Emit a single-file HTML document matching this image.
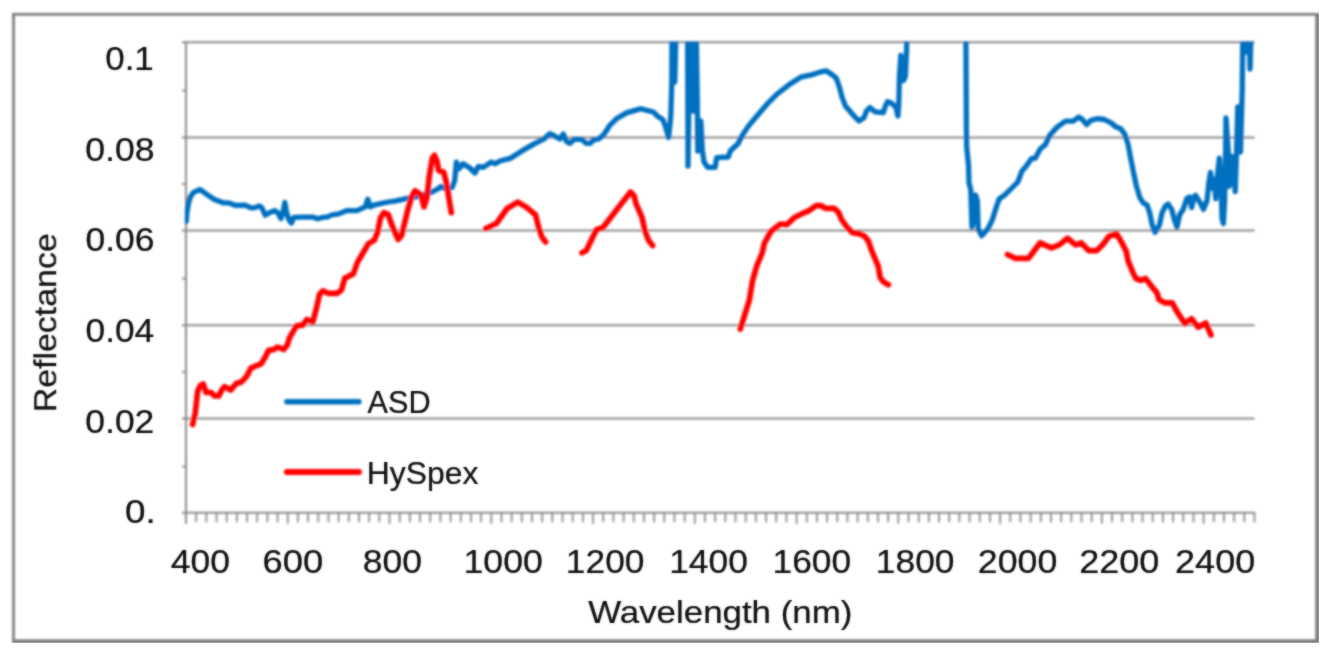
<!DOCTYPE html>
<html lang="en"><head><meta charset="utf-8"><title>Reflectance vs Wavelength</title>
<style>
html,body{margin:0;padding:0;background:#fff;}
body{width:1332px;height:652px;overflow:hidden;position:relative;}
svg{display:block;position:absolute;left:0;top:0;}
text{font-family:"Liberation Sans",sans-serif;fill:#0a0a0a;stroke:#0a0a0a;stroke-width:0.2px;}
</style></head><body>
<svg width="1332" height="652" viewBox="0 0 1332 652">
<defs><filter id="bl" filterUnits="userSpaceOnUse" x="0" y="0" width="1332" height="652"><feGaussianBlur stdDeviation="0.85"/></filter><filter id="bt" filterUnits="userSpaceOnUse" x="0" y="0" width="1332" height="652"><feGaussianBlur stdDeviation="0.8" result="b"/><feComposite in="b" in2="SourceGraphic" operator="arithmetic" k1="0" k2="0.5" k3="0.5" k4="0"/></filter><clipPath id="outer"><rect x="0" y="0" width="1318.8" height="642.8"/></clipPath><clipPath id="plot"><rect x="184.8" y="41.5" width="1072.7" height="472.00000000000006"/></clipPath></defs>
<rect x="0" y="0" width="1332" height="652" fill="#ffffff"/>
<g clip-path="url(#outer)"><g filter="url(#bl)">
<!-- outer frame -->
<g fill="#727272">
<rect x="12.3" y="13.1" width="2.5" height="636"/>
<rect x="12.3" y="13.1" width="1312" height="2.5"/>
</g>
<g fill="#7e7e7e">
<rect x="1315.3" y="13.1" width="9" height="636"/>
<rect x="12.3" y="639.3" width="1312" height="9"/>
</g>

<g stroke="#8a8a8a" stroke-width="2.0" fill="none">
<line x1="182.0" y1="42.3" x2="1254.5" y2="42.3"/>
<line x1="182.0" y1="137.6" x2="1254.5" y2="137.6"/>
<line x1="182.0" y1="230.4" x2="1254.5" y2="230.4"/>
<line x1="182.0" y1="325.3" x2="1254.5" y2="325.3"/>
<line x1="182.0" y1="418.4" x2="1254.5" y2="418.4"/>
<line x1="186.0" y1="42.3" x2="186.0" y2="523.7"/>
<line x1="182.0" y1="512.7" x2="1255.3" y2="512.7"/>
<line x1="182.0" y1="90.5" x2="186.0" y2="90.5" stroke-width="1.8"/>
<line x1="182.0" y1="184" x2="186.0" y2="184" stroke-width="1.8"/>
<line x1="182.0" y1="278.5" x2="186.0" y2="278.5" stroke-width="1.8"/>
<line x1="182.0" y1="371.8" x2="186.0" y2="371.8" stroke-width="1.8"/>
<line x1="182.0" y1="466.5" x2="186.0" y2="466.5" stroke-width="1.8"/>
<line x1="196.18" y1="512.7" x2="196.18" y2="522.2" stroke-width="1.8"/>
<line x1="206.35" y1="512.7" x2="206.35" y2="522.2" stroke-width="1.8"/>
<line x1="216.53" y1="512.7" x2="216.53" y2="522.2" stroke-width="1.8"/>
<line x1="226.70" y1="512.7" x2="226.70" y2="522.2" stroke-width="1.8"/>
<line x1="236.88" y1="512.7" x2="236.88" y2="522.2" stroke-width="1.8"/>
<line x1="247.06" y1="512.7" x2="247.06" y2="522.2" stroke-width="1.8"/>
<line x1="257.23" y1="512.7" x2="257.23" y2="522.2" stroke-width="1.8"/>
<line x1="267.41" y1="512.7" x2="267.41" y2="522.2" stroke-width="1.8"/>
<line x1="277.59" y1="512.7" x2="277.59" y2="522.2" stroke-width="1.8"/>
<line x1="287.76" y1="512.7" x2="287.76" y2="523.7" stroke-width="1.8"/>
<line x1="297.94" y1="512.7" x2="297.94" y2="522.2" stroke-width="1.8"/>
<line x1="308.11" y1="512.7" x2="308.11" y2="522.2" stroke-width="1.8"/>
<line x1="318.29" y1="512.7" x2="318.29" y2="522.2" stroke-width="1.8"/>
<line x1="328.47" y1="512.7" x2="328.47" y2="522.2" stroke-width="1.8"/>
<line x1="338.64" y1="512.7" x2="338.64" y2="522.2" stroke-width="1.8"/>
<line x1="348.82" y1="512.7" x2="348.82" y2="522.2" stroke-width="1.8"/>
<line x1="359.00" y1="512.7" x2="359.00" y2="522.2" stroke-width="1.8"/>
<line x1="369.17" y1="512.7" x2="369.17" y2="522.2" stroke-width="1.8"/>
<line x1="379.35" y1="512.7" x2="379.35" y2="522.2" stroke-width="1.8"/>
<line x1="389.52" y1="512.7" x2="389.52" y2="523.7" stroke-width="1.8"/>
<line x1="399.70" y1="512.7" x2="399.70" y2="522.2" stroke-width="1.8"/>
<line x1="409.88" y1="512.7" x2="409.88" y2="522.2" stroke-width="1.8"/>
<line x1="420.05" y1="512.7" x2="420.05" y2="522.2" stroke-width="1.8"/>
<line x1="430.23" y1="512.7" x2="430.23" y2="522.2" stroke-width="1.8"/>
<line x1="440.40" y1="512.7" x2="440.40" y2="522.2" stroke-width="1.8"/>
<line x1="450.58" y1="512.7" x2="450.58" y2="522.2" stroke-width="1.8"/>
<line x1="460.76" y1="512.7" x2="460.76" y2="522.2" stroke-width="1.8"/>
<line x1="470.93" y1="512.7" x2="470.93" y2="522.2" stroke-width="1.8"/>
<line x1="481.11" y1="512.7" x2="481.11" y2="522.2" stroke-width="1.8"/>
<line x1="491.29" y1="512.7" x2="491.29" y2="523.7" stroke-width="1.8"/>
<line x1="501.46" y1="512.7" x2="501.46" y2="522.2" stroke-width="1.8"/>
<line x1="511.64" y1="512.7" x2="511.64" y2="522.2" stroke-width="1.8"/>
<line x1="521.81" y1="512.7" x2="521.81" y2="522.2" stroke-width="1.8"/>
<line x1="531.99" y1="512.7" x2="531.99" y2="522.2" stroke-width="1.8"/>
<line x1="542.17" y1="512.7" x2="542.17" y2="522.2" stroke-width="1.8"/>
<line x1="552.34" y1="512.7" x2="552.34" y2="522.2" stroke-width="1.8"/>
<line x1="562.52" y1="512.7" x2="562.52" y2="522.2" stroke-width="1.8"/>
<line x1="572.70" y1="512.7" x2="572.70" y2="522.2" stroke-width="1.8"/>
<line x1="582.87" y1="512.7" x2="582.87" y2="522.2" stroke-width="1.8"/>
<line x1="593.05" y1="512.7" x2="593.05" y2="523.7" stroke-width="1.8"/>
<line x1="603.22" y1="512.7" x2="603.22" y2="522.2" stroke-width="1.8"/>
<line x1="613.40" y1="512.7" x2="613.40" y2="522.2" stroke-width="1.8"/>
<line x1="623.58" y1="512.7" x2="623.58" y2="522.2" stroke-width="1.8"/>
<line x1="633.75" y1="512.7" x2="633.75" y2="522.2" stroke-width="1.8"/>
<line x1="643.93" y1="512.7" x2="643.93" y2="522.2" stroke-width="1.8"/>
<line x1="654.10" y1="512.7" x2="654.10" y2="522.2" stroke-width="1.8"/>
<line x1="664.28" y1="512.7" x2="664.28" y2="522.2" stroke-width="1.8"/>
<line x1="674.46" y1="512.7" x2="674.46" y2="522.2" stroke-width="1.8"/>
<line x1="684.63" y1="512.7" x2="684.63" y2="522.2" stroke-width="1.8"/>
<line x1="694.81" y1="512.7" x2="694.81" y2="523.7" stroke-width="1.8"/>
<line x1="704.99" y1="512.7" x2="704.99" y2="522.2" stroke-width="1.8"/>
<line x1="715.16" y1="512.7" x2="715.16" y2="522.2" stroke-width="1.8"/>
<line x1="725.34" y1="512.7" x2="725.34" y2="522.2" stroke-width="1.8"/>
<line x1="735.51" y1="512.7" x2="735.51" y2="522.2" stroke-width="1.8"/>
<line x1="745.69" y1="512.7" x2="745.69" y2="522.2" stroke-width="1.8"/>
<line x1="755.87" y1="512.7" x2="755.87" y2="522.2" stroke-width="1.8"/>
<line x1="766.04" y1="512.7" x2="766.04" y2="522.2" stroke-width="1.8"/>
<line x1="776.22" y1="512.7" x2="776.22" y2="522.2" stroke-width="1.8"/>
<line x1="786.40" y1="512.7" x2="786.40" y2="522.2" stroke-width="1.8"/>
<line x1="796.57" y1="512.7" x2="796.57" y2="523.7" stroke-width="1.8"/>
<line x1="806.75" y1="512.7" x2="806.75" y2="522.2" stroke-width="1.8"/>
<line x1="816.92" y1="512.7" x2="816.92" y2="522.2" stroke-width="1.8"/>
<line x1="827.10" y1="512.7" x2="827.10" y2="522.2" stroke-width="1.8"/>
<line x1="837.28" y1="512.7" x2="837.28" y2="522.2" stroke-width="1.8"/>
<line x1="847.45" y1="512.7" x2="847.45" y2="522.2" stroke-width="1.8"/>
<line x1="857.63" y1="512.7" x2="857.63" y2="522.2" stroke-width="1.8"/>
<line x1="867.80" y1="512.7" x2="867.80" y2="522.2" stroke-width="1.8"/>
<line x1="877.98" y1="512.7" x2="877.98" y2="522.2" stroke-width="1.8"/>
<line x1="888.16" y1="512.7" x2="888.16" y2="522.2" stroke-width="1.8"/>
<line x1="898.33" y1="512.7" x2="898.33" y2="523.7" stroke-width="1.8"/>
<line x1="908.51" y1="512.7" x2="908.51" y2="522.2" stroke-width="1.8"/>
<line x1="918.69" y1="512.7" x2="918.69" y2="522.2" stroke-width="1.8"/>
<line x1="928.86" y1="512.7" x2="928.86" y2="522.2" stroke-width="1.8"/>
<line x1="939.04" y1="512.7" x2="939.04" y2="522.2" stroke-width="1.8"/>
<line x1="949.21" y1="512.7" x2="949.21" y2="522.2" stroke-width="1.8"/>
<line x1="959.39" y1="512.7" x2="959.39" y2="522.2" stroke-width="1.8"/>
<line x1="969.57" y1="512.7" x2="969.57" y2="522.2" stroke-width="1.8"/>
<line x1="979.74" y1="512.7" x2="979.74" y2="522.2" stroke-width="1.8"/>
<line x1="989.92" y1="512.7" x2="989.92" y2="522.2" stroke-width="1.8"/>
<line x1="1000.10" y1="512.7" x2="1000.10" y2="523.7" stroke-width="1.8"/>
<line x1="1010.27" y1="512.7" x2="1010.27" y2="522.2" stroke-width="1.8"/>
<line x1="1020.45" y1="512.7" x2="1020.45" y2="522.2" stroke-width="1.8"/>
<line x1="1030.62" y1="512.7" x2="1030.62" y2="522.2" stroke-width="1.8"/>
<line x1="1040.80" y1="512.7" x2="1040.80" y2="522.2" stroke-width="1.8"/>
<line x1="1050.98" y1="512.7" x2="1050.98" y2="522.2" stroke-width="1.8"/>
<line x1="1061.15" y1="512.7" x2="1061.15" y2="522.2" stroke-width="1.8"/>
<line x1="1071.33" y1="512.7" x2="1071.33" y2="522.2" stroke-width="1.8"/>
<line x1="1081.50" y1="512.7" x2="1081.50" y2="522.2" stroke-width="1.8"/>
<line x1="1091.68" y1="512.7" x2="1091.68" y2="522.2" stroke-width="1.8"/>
<line x1="1101.86" y1="512.7" x2="1101.86" y2="523.7" stroke-width="1.8"/>
<line x1="1112.03" y1="512.7" x2="1112.03" y2="522.2" stroke-width="1.8"/>
<line x1="1122.21" y1="512.7" x2="1122.21" y2="522.2" stroke-width="1.8"/>
<line x1="1132.39" y1="512.7" x2="1132.39" y2="522.2" stroke-width="1.8"/>
<line x1="1142.56" y1="512.7" x2="1142.56" y2="522.2" stroke-width="1.8"/>
<line x1="1152.74" y1="512.7" x2="1152.74" y2="522.2" stroke-width="1.8"/>
<line x1="1162.91" y1="512.7" x2="1162.91" y2="522.2" stroke-width="1.8"/>
<line x1="1173.09" y1="512.7" x2="1173.09" y2="522.2" stroke-width="1.8"/>
<line x1="1183.27" y1="512.7" x2="1183.27" y2="522.2" stroke-width="1.8"/>
<line x1="1193.44" y1="512.7" x2="1193.44" y2="522.2" stroke-width="1.8"/>
<line x1="1203.62" y1="512.7" x2="1203.62" y2="523.7" stroke-width="1.8"/>
<line x1="1213.80" y1="512.7" x2="1213.80" y2="522.2" stroke-width="1.8"/>
<line x1="1223.97" y1="512.7" x2="1223.97" y2="522.2" stroke-width="1.8"/>
<line x1="1234.15" y1="512.7" x2="1234.15" y2="522.2" stroke-width="1.8"/>
<line x1="1244.32" y1="512.7" x2="1244.32" y2="522.2" stroke-width="1.8"/>
<line x1="1254.50" y1="512.7" x2="1254.50" y2="522.2" stroke-width="1.8"/>
</g>
<g clip-path="url(#plot)" fill="none" stroke-linejoin="round" stroke-linecap="round">
<polyline points="186.2,221.5 187.0,212.0 188.4,203.5 190.4,196.8 193.6,192.4 197.0,190.8 200.2,189.6 205.3,193.3 213.7,199.2 223.9,202.9 228.9,202.9 235.7,205.4 244.9,205.1 250.9,207.9 255.1,207.6 259.3,205.9 261.8,207.6 265.2,215.2 269.4,212.7 274.5,210.6 277.8,212.7 280.9,218.6 282.9,212.7 284.9,202.5 286.6,212.7 288.8,219.4 291.3,223.1 293.9,217.3 301.5,217.1 312.5,217.1 317.8,218.8 323.4,217.2 327.6,217.0 331.4,215.0 338.6,213.9 346.7,210.6 356.9,210.6 365.3,206.8 367.8,199.2 370.4,206.8 373.7,205.1 385.5,202.5 395.7,200.9 407.5,198.3 417.6,196.6 431.1,192.4 437.8,189.0 441.2,186.5 446.3,189.0 452.2,187.4 454.7,180.6 456.4,162.1 458.9,168.8 463.1,163.7 469.9,168.0 475.0,173.0 478.3,166.3 483.4,167.4 491.0,162.1 495.2,163.7 500.0,161.0 510.1,158.4 521.9,150.9 533.7,144.1 543.9,139.0 549.8,133.6 554.0,135.7 559.9,139.0 563.3,134.0 566.6,141.6 570.0,143.3 574.2,139.4 581.8,139.4 586.0,143.3 590.3,143.3 593.6,139.9 598.7,139.0 603.7,134.8 609.7,125.5 616.4,118.8 626.5,112.9 635.0,110.4 640.9,108.7 646.8,110.4 653.5,112.0 657.7,116.3 662.8,119.6 665.3,126.1 668.6,137.5 670.8,116.0 671.8,82.0 672.0,20.0 674.8,82.0 676.2,20.0" stroke="#0070c0" stroke-width="5.3"/>
<polyline points="687.6,20.0 688.0,166.0 690.0,20.0 692.0,20.0 693.5,111.0 696.0,20.0 697.3,100.0 697.8,151.0 700.8,121.0 702.3,150.0 704.0,162.0 707.6,167.3 715.2,167.3 716.6,157.7 728.3,157.0 730.4,150.7 738.0,143.8 742.1,135.6 748.4,126.1 756.9,116.0 767.0,104.2 777.1,94.0 788.9,84.8 800.7,77.2 812.5,74.6 821.0,71.8 826.0,70.8 831.9,74.6 836.2,78.0 839.5,87.3 842.1,97.4 845.4,105.9 849.7,110.9 855.6,117.7 858.9,121.0 864.0,117.7 866.5,110.9 869.9,107.5 875.0,111.8 883.4,112.6 885.1,106.7 887.6,101.6 891.8,103.3 896.0,107.5 897.9,116.0 898.8,104.0 899.4,77.2 900.8,55.5 903.5,80.6 905.4,76.4 906.6,48.8 906.8,20.0" stroke="#0070c0" stroke-width="5.3"/>
<polyline points="965.8,20.0 966.4,130.0 966.7,147.6 968.5,165.2 969.0,182.9 970.8,189.9 971.1,200.5 972.0,226.9 973.8,218.1 975.6,195.2 977.3,200.5 978.2,228.7 981.7,235.7 987.9,228.7 992.3,219.9 996.7,205.8 999.3,198.7 1004.6,195.2 1010.8,189.0 1017.8,182.0 1022.2,170.5 1025.1,167.6 1031.8,158.3 1035.2,158.3 1040.2,149.0 1045.3,144.8 1049.5,135.5 1057.1,127.1 1065.5,121.2 1073.1,121.2 1078.7,117.0 1082.4,119.5 1086.6,124.6 1090.9,120.4 1096.8,118.7 1104.3,119.5 1111.1,122.9 1116.2,127.1 1120.4,128.5 1124.6,133.9 1128.0,144.0 1130.5,157.5 1133.4,172.0 1136.5,186.4 1140.0,197.9 1143.5,203.2 1147.0,204.9 1149.7,212.9 1152.3,225.2 1155.0,232.3 1159.4,225.2 1162.0,212.9 1165.6,205.8 1168.2,204.1 1171.7,209.4 1174.4,219.9 1177.0,227.0 1179.7,214.6 1183.2,209.4 1186.7,198.8 1189.4,197.0 1191.7,207.6 1193.8,197.0 1195.5,195.2 1199.9,202.3 1203.5,209.4 1207.0,200.5 1208.8,182.9 1210.5,172.3 1212.3,188.2 1214.0,179.4 1215.8,198.8 1217.6,174.1 1219.3,158.2 1221.1,182.9 1222.0,218.2 1223.4,223.5 1224.6,200.5 1225.5,156.5 1226.0,118.0 1228.2,150.0 1229.0,186.4 1230.8,182.9 1231.7,156.5 1233.4,158.2 1235.2,191.7 1236.6,150.0 1237.8,107.0 1239.3,140.0 1240.5,152.0 1242.2,90.0 1243.0,20.0 1245.5,20.0 1246.5,52.0 1247.5,20.0 1249.0,20.0 1250.0,69.0 1251.5,20.0" stroke="#0070c0" stroke-width="5.3"/>
<polyline points="192.6,424.5 195.2,413.5 197.7,390.9 200.2,385.8 203.3,384.1 206.1,392.5 211.2,392.5 214.6,395.9 218.8,395.9 222.2,389.2 224.7,386.6 230.6,390.0 236.5,383.3 240.7,382.4 246.6,376.5 250.9,368.1 256.8,365.5 261.0,363.9 265.2,357.1 268.6,350.4 273.6,349.5 277.8,347.0 283.7,349.5 287.1,345.3 289.6,337.7 296.4,325.9 302.7,325.2 306.9,319.5 312.8,322.0 317.0,306.0 319.5,294.2 322.9,290.8 328.0,293.3 337.2,293.3 341.5,289.9 344.8,278.1 348.2,276.5 353.3,273.9 357.5,262.1 362.5,253.7 368.4,243.6 374.3,240.2 377.7,231.7 380.5,217.7 383.9,212.7 388.1,214.3 392.3,226.2 398.2,239.5 401.6,235.4 407.5,211.0 411.7,196.6 415.1,190.7 421.0,194.9 424.0,206.8 426.9,197.5 429.4,175.5 432.4,157.8 434.5,155.3 437.0,161.2 438.7,170.5 443.7,172.2 446.3,182.3 448.8,197.5 451.3,212.7" stroke="#ff0000" stroke-width="5.7"/>
<polyline points="485.7,228.5 496.4,223.5 507.1,208.5 517.8,202.1 526.3,207.1 535.6,214.9 538.5,227.1 542.0,237.1 545.6,242.0" stroke="#ff0000" stroke-width="5.7"/>
<polyline points="582.0,252.7 586.3,250.6 596.2,229.9 603.4,227.1 617.6,208.5 630.5,192.1 634.0,195.7 636.2,204.2 641.9,217.1 644.7,229.9 648.3,239.9 652.6,245.6" stroke="#ff0000" stroke-width="5.7"/>
<polyline points="740.3,329.2 749.3,300.2 752.5,280.9 756.8,265.8 762.2,253.0 764.3,243.3 770.8,231.5 780.4,224.0 786.9,224.6 794.4,217.5 803.0,213.2 808.3,211.1 815.9,205.7 821.2,205.7 825.5,208.3 834.1,208.3 838.4,212.2 841.6,219.7 847.0,227.2 852.3,232.6 858.8,233.6 864.1,235.8 868.4,241.1 871.7,250.8 878.1,265.8 880.2,277.6 883.5,281.9 888.4,284.7" stroke="#ff0000" stroke-width="5.7"/>
<polyline points="1007.5,254.5 1015.1,258.3 1028.5,258.3 1040.0,243.0 1051.5,247.8 1059.2,244.9 1067.5,238.2 1075.5,244.9 1081.3,243.0 1088.9,250.7 1096.6,250.7 1103.3,244.0 1109.0,236.3 1116.7,233.8 1122.5,244.0 1126.3,251.6 1128.2,261.2 1133.0,272.7 1135.9,278.5 1140.7,280.4 1145.5,278.5 1152.2,287.1 1157.0,292.8 1158.9,299.5 1164.6,302.8 1172.3,302.8 1176.1,310.1 1184.8,323.5 1191.5,318.7 1198.2,327.3 1205.8,323.1 1211.0,335.0" stroke="#ff0000" stroke-width="5.7"/>
</g>
<line x1="286.8" y1="401.8" x2="359" y2="401.8" stroke="#0070c0" stroke-width="5.4" stroke-linecap="round"/>
<line x1="286.8" y1="472.1" x2="359" y2="472.1" stroke="#ff0000" stroke-width="6" stroke-linecap="round"/>
</g></g>
<g filter="url(#bt)">
<text x="367.54" y="413" font-size="32.2" textLength="63.03" lengthAdjust="spacingAndGlyphs">ASD</text>
<text x="366.79" y="484" font-size="32.2" textLength="111.56" lengthAdjust="spacingAndGlyphs">HySpex</text>
<text x="105.24" y="70.2" font-size="32.8" textLength="48.57" lengthAdjust="spacingAndGlyphs">0.1</text>
<text x="85.31" y="160.8" font-size="32.8" textLength="69.34" lengthAdjust="spacingAndGlyphs">0.08</text>
<text x="85.41" y="250.9" font-size="32.8" textLength="69.15" lengthAdjust="spacingAndGlyphs">0.06</text>
<text x="85.52" y="341.8" font-size="32.8" textLength="68.71" lengthAdjust="spacingAndGlyphs">0.04</text>
<text x="85.31" y="432.8" font-size="32.8" textLength="69.07" lengthAdjust="spacingAndGlyphs">0.02</text>
<text x="125.06" y="523.2" font-size="32.8" textLength="30.70" lengthAdjust="spacingAndGlyphs">0.</text>
<text x="170.78" y="573.4" font-size="32.8" textLength="59.30" lengthAdjust="spacingAndGlyphs">400</text>
<text x="262.55" y="573.4" font-size="32.8" textLength="60.67" lengthAdjust="spacingAndGlyphs">600</text>
<text x="362.65" y="573.4" font-size="32.8" textLength="59.33" lengthAdjust="spacingAndGlyphs">800</text>
<text x="463.48" y="573.4" font-size="32.8" textLength="79.41" lengthAdjust="spacingAndGlyphs">1000</text>
<text x="565.81" y="573.4" font-size="32.8" textLength="78.68" lengthAdjust="spacingAndGlyphs">1200</text>
<text x="669.21" y="573.4" font-size="32.8" textLength="78.68" lengthAdjust="spacingAndGlyphs">1400</text>
<text x="772.51" y="573.4" font-size="32.8" textLength="78.68" lengthAdjust="spacingAndGlyphs">1600</text>
<text x="875.81" y="573.4" font-size="32.8" textLength="78.68" lengthAdjust="spacingAndGlyphs">1800</text>
<text x="977.80" y="573.4" font-size="32.8" textLength="79.49" lengthAdjust="spacingAndGlyphs">2000</text>
<text x="1079.19" y="573.4" font-size="32.8" textLength="80.22" lengthAdjust="spacingAndGlyphs">2200</text>
<text x="1175.09" y="573.4" font-size="32.8" textLength="80.12" lengthAdjust="spacingAndGlyphs">2400</text>
<text x="588.15" y="623" font-size="32.2" textLength="264.22" lengthAdjust="spacingAndGlyphs">Wavelength (nm)</text>
<text transform="translate(56.2,410) rotate(-90)" x="-2.38" y="0" font-size="32.2" textLength="179.19" lengthAdjust="spacingAndGlyphs">Reflectance</text>
</g>
</svg>
</body></html>
